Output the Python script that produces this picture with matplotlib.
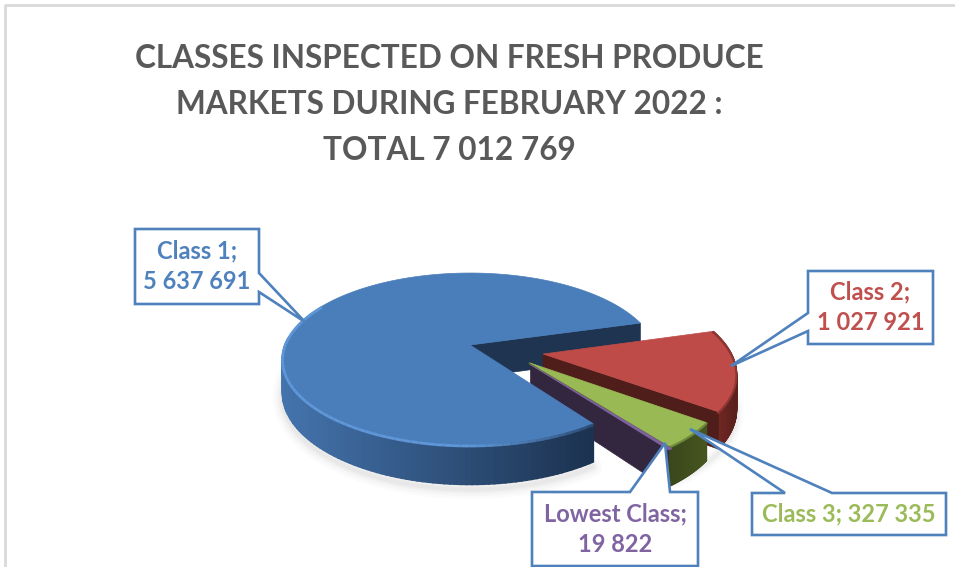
import numpy as np
import matplotlib
matplotlib.use('Agg')
import matplotlib.pyplot as plt
from matplotlib.patches import Polygon

categories = ['Class 1', 'Class 2', 'Class 3', 'Lowest Class']
values = [5637691, 1027921, 327335, 19822]
title_lines = ['CLASSES INSPECTED ON FRESH PRODUCE',
               'MARKETS DURING FEBRUARY 2022 :',
               'TOTAL 7 012 769']
label_lines = [2, 2, 1, 2]

top_colors = ['#4a7ebb', '#be4b48', '#98b954', '#7d60a0']
text_colors = ['#4f81bd', '#c0504d', '#9bbb59', '#8064a2']
side_colors = ['#1e3450', '#4f1e1a', '#404e1e', '#33263f']

# pie geometry, in pixels of the reference
cx, cy = 470, 345
rx, ry = 185, 83.7
persp = 0.163
depth = 33
start_angle = -54.7
offsets = [(0, 0), (0.388, -0.106), (0.31, -0.205), (0.315, -0.225)]

# callout boxes: x0, x1, y0, y1, pointer tip, two pointer base points
boxes = [
    (135, 259, 229, 304, (305, 322), (259, 292), (259, 273)),
    (808, 933, 271, 344, (731, 366), (808, 313), (808, 331)),
    (752, 946, 493, 535, (690, 429), (785, 493), (832, 493)),
    (532, 698, 492, 566, (665, 443), (630, 492), (670, 492)),
]


def proj(u, v, z=0.0):
    w = 1 + persp * v
    return cx + rx * u / w, cy - ry * v / w + z * depth / w


def arc(theta1, theta2, off, z=0.0, n=120):
    t = np.radians(np.linspace(theta1, theta2, n))
    x, y = proj(np.cos(t) + off[0], np.sin(t) + off[1], z)
    return np.column_stack([x, y])


def blend(c1, c2, t):
    a = np.array(matplotlib.colors.to_rgb(c1))
    b = np.array(matplotlib.colors.to_rgb(c2))
    return tuple(a + (b - a) * t)


def add_poly(pts, color, z, **kw):
    ax.add_patch(Polygon(pts, closed=True, facecolor=color, edgecolor=color,
                         linewidth=kw.pop('lw', 0.5), zorder=z, **kw))


def gradient_wall(theta1, theta2, off, c_left, c_right, z, n=90):
    edges = np.linspace(theta1, theta2, n + 1)
    xs = arc(theta1, theta2, off)[:, 0]
    for a, b in zip(edges[:-1], edges[1:]):
        top = arc(a, b, off, 0, 3)
        bot = arc(a, b, off, 1, 3)
        t = (top[:, 0].mean() - xs.min()) / (xs.max() - xs.min())
        add_poly(np.vstack([top, bot[::-1]]), blend(c_left, c_right, t), z, lw=1.2)


fig = plt.figure(figsize=(9.55, 5.67), dpi=100)
ax = fig.add_axes([0, 0, 1, 1])
ax.set_xlim(0, 955)
ax.set_ylim(567, 0)
ax.axis('off')
plt.rcParams['font.family'] = ['Lato', 'DejaVu Sans']

# chart frame, only top and left show
ax.plot([955, 5, 5], [5, 5, 567], color='#d9d9d9', lw=2, zorder=1)

for i, line in enumerate(title_lines):
    ax.text(449, 59 + i * 45.5, line, ha='center', va='center', fontsize=22.7,
            fontweight='bold', color='#595959', zorder=2)

# slice angles come from the values, clockwise from the start angle
sweeps = 360 * np.array(values) / sum(values)
ends = start_angle - np.cumsum(sweeps)
starts = np.concatenate([[start_angle], ends[:-1]])
ang = [(starts[i], ends[i]) for i in range(4)]
a1_start, a1_end = ang[0]

# soft ground shadow
shadow = arc(150, 305, (0, 0), 1.12)
for lw, alpha in zip([14, 10, 6, 3], [0.03, 0.04, 0.05, 0.06]):
    ax.plot(shadow[:, 0], shadow[:, 1], color='#808080', lw=lw, alpha=alpha,
            zorder=3, solid_capstyle='round')
shadow2 = arc(-60, 10, offsets[1], 1.1)
for lw, alpha in zip([10, 6, 3], [0.03, 0.05, 0.06]):
    ax.plot(shadow2[:, 0], shadow2[:, 1], color='#808080', lw=lw, alpha=alpha,
            zorder=3)

# blue inner face (back of the gap)
apex = proj(0, 0)
edge = proj(np.cos(np.radians(a1_end)), np.sin(np.radians(a1_end)))
apex_b = proj(0, 0, 1)
edge_b = proj(np.cos(np.radians(a1_end)), np.sin(np.radians(a1_end)), 1)
add_poly([apex, edge, edge_b, apex_b], side_colors[0], 4)

# red slice walls
off = offsets[1]
gradient_wall(ang[1][1], ang[1][0], off, '#7a2a26', '#5a201c', 5)
a0 = proj(off[0], off[1])
a0b = proj(off[0], off[1], 1)
c = (np.cos(np.radians(ang[1][1])) + off[0], np.sin(np.radians(ang[1][1])) + off[1])
add_poly([a0, proj(*c), proj(c[0], c[1], 1), a0b], side_colors[1], 5.5)
add_poly(np.vstack([[a0], arc(ang[1][0], ang[1][1], off)]), top_colors[1], 6)

# purple face of the lowest class
off = offsets[3]
a0 = proj(off[0], off[1])
a0b = proj(off[0], off[1], 1)
c = (np.cos(np.radians(ang[3][1])) + off[0], np.sin(np.radians(ang[3][1])) + off[1])
add_poly([a0, proj(*c), proj(c[0], c[1], 1), a0b], side_colors[3], 7)

# green slice
off = offsets[2]
gradient_wall(ang[2][1], ang[2][0], off, '#3a471b', '#465520', 8)
a0 = proj(off[0], off[1])
arc_top = arc(ang[2][0], ang[2][1], off)
add_poly(np.vstack([[a0], arc_top]), top_colors[2], 9)
ax.plot([a0[0], arc_top[-1, 0]], [a0[1] + 1, arc_top[-1, 1] + 1], color='#5a6e2a', lw=1, zorder=9.2)
ax.plot(arc_top[:, 0], arc_top[:, 1] + 1, color='#6f8a3a', lw=1.5, zorder=9.1)

# lowest class top sliver
off = offsets[3]
a0 = proj(off[0], off[1])
add_poly(np.vstack([[a0], arc(ang[3][0], ang[3][1], off, 0, 10)]), top_colors[3], 9.3, lw=0.6)

# red rim
off = offsets[1]
red_arc = arc(ang[1][0], ang[1][1], off)
ax.plot(red_arc[:, 0], red_arc[:, 1] + 1, color='#8f3532', lw=1.5, zorder=6.1)

# blue outer wall and top
gradient_wall(175, 360 + a1_start, (0, 0), '#4474ad', '#1c3250', 10)
blue_top = np.vstack([[apex], arc(a1_end, a1_start, (0, 0), 0, 300)])
add_poly(blue_top, top_colors[0], 11)

# bevel along the front edge, fades out towards the right end
rim_edges = np.linspace(150, 360 + a1_start, 71)
for a, b in zip(rim_edges[:-1], rim_edges[1:]):
    seg = arc(a, b, (0, 0), 0, 3)
    mid = (a + b) / 2
    if mid < 270:
        col = '#5f97d8'
    else:
        col = blend('#5f97d8', '#2b4a72', (mid - 270) / (360 + a1_start - 270))
    ax.plot(seg[:, 0], seg[:, 1] + 1, color=col, lw=2.0, zorder=11.2, solid_capstyle='butt')

# callouts, white filled, they cover the pie below the pointer
for i, b in enumerate(boxes):
    x0, x1, y0, y1, tip, p1, p2 = b
    if i == 0:
        pts = [(x0, y0), (x1, y0), p2, tip, p1, (x1, y1), (x0, y1)]
    elif i == 1:
        pts = [(x0, y0), (x1, y0), (x1, y1), (x0, y1), p2, tip, p1]
    else:
        pts = [(x0, y0), p1, tip, p2, (x1, y0), (x1, y1), (x0, y1)]
    ax.add_patch(Polygon(pts, closed=True, facecolor='white', edgecolor='#4f81bd',
                         linewidth=1.9, joinstyle='miter', zorder=20))
    val = '{:,}'.format(values[i]).replace(',', ' ')
    if label_lines[i] == 2:
        txt = categories[i] + ';\n' + val
    else:
        txt = categories[i] + '; ' + val
    ax.text((x0 + x1) / 2, (y0 + y1) / 2, txt, ha='center', va='center',
            fontsize=17, fontweight='bold', color=text_colors[i],
            linespacing=1.4, zorder=21)

fig.savefig('out.png', dpi=100)
